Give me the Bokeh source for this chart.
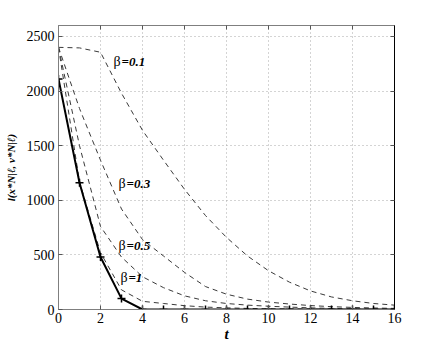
from bokeh.plotting import figure
from bokeh.models import LinearAxis, Range1d, FixedTicker, ColumnDataSource
from bokeh.core.properties import value
from bokeh.embed import file_html
from bokeh.resources import INLINE

t = list(range(17))
solid_vals = [2110, 1160, 480, 100, 0, 0, 0, 0, 0, 0, 0, 0, 0, 0, 0, 0, 0]
beta01 = [2400, 2395, 2355, 1980, 1640, 1367, 1100, 860, 660, 490, 355, 250, 170, 115, 80, 55, 40]
beta03 = [2400, 1840, 1367, 920, 640, 490, 340, 210, 140, 95, 68, 50, 36, 26, 19, 14, 10]
beta05 = [2400, 1500, 760, 480, 300, 200, 125, 80, 55, 40, 30, 22, 15, 10, 7, 5, 4]
beta1 = [2400, 1170, 520, 180, 75, 55, 35, 22, 15, 10, 7, 5, 4, 3, 2, 1, 1]
beta_names = ["=0.1", "=0.3", "=0.5", "=1"]
beta_label_x = [2.62, 2.86, 2.86, 2.95]
beta_label_y = [2266, 1156, 587, 294]
x_ticks = [0, 2, 4, 6, 8, 10, 12, 14, 16]
y_ticks = [0, 500, 1000, 1500, 2000, 2500]
x_title = "t"
y_title = "l(x*N|ℓ, v*N|ℓ)"

SERIF = "Liberation Serif"

p = figure(width=430, height=345, output_backend="svg", toolbar_location=None,
           x_range=Range1d(0, 16), y_range=Range1d(0, 2600),
           min_border_left=58, min_border_right=36, min_border_top=25, min_border_bottom=36)
p.background_fill_color = "white"
p.border_fill_color = "white"
p.outline_line_color = None

for ax in p.xaxis + p.yaxis:
    ax.axis_line_color = "#7f7f7f"
    ax.major_tick_line_color = "#555555"
    ax.major_tick_in = 4
    ax.major_tick_out = 0
    ax.minor_tick_line_color = None
    ax.major_label_text_font = SERIF
    ax.major_label_text_font_size = "14px"
    ax.major_label_text_color = "black"
    ax.axis_label_text_font = SERIF
    ax.axis_label_text_font_style = "bold italic"
    ax.axis_label_text_color = "black"
p.xaxis.ticker = FixedTicker(ticks=x_ticks)
p.yaxis.ticker = FixedTicker(ticks=y_ticks)
p.xaxis.major_label_standoff = 3
p.yaxis.major_label_standoff = 4
p.xaxis.axis_label = x_title
p.xaxis.axis_label_text_font_size = "15px"
p.xaxis.axis_label_standoff = 0
p.yaxis.axis_label = y_title
p.yaxis.axis_label_text_font_size = "11px"
p.yaxis.axis_label_standoff = 7

top = LinearAxis(ticker=FixedTicker(ticks=x_ticks), axis_line_color="#7f7f7f",
                 major_tick_line_color="#555555", major_tick_in=4, major_tick_out=0,
                 minor_tick_line_color=None,
                 major_label_overrides={k: "" for k in x_ticks},
                 major_label_standoff=0)
right = LinearAxis(ticker=FixedTicker(ticks=y_ticks), axis_line_color="black",
                   major_tick_line_color="#555555", major_tick_in=4, major_tick_out=0,
                   minor_tick_line_color=None,
                   major_label_overrides={k: "" for k in y_ticks},
                   major_label_standoff=0)
p.add_layout(top, "above")
p.add_layout(right, "right")

p.xgrid.ticker = FixedTicker(ticks=x_ticks)
p.ygrid.ticker = FixedTicker(ticks=y_ticks)
for g in (p.xgrid[0], p.ygrid[0]):
    g.grid_line_color = "#a8a8a8"
    g.grid_line_dash = "1 3"
    g.grid_line_width = 1

for vals in (beta01, beta03, beta05, beta1):
    p.line(t, vals, line_color="#3a3a3a", line_width=1, line_dash="5 4")

p.line(t, solid_vals, line_color="black", line_width=2)
p.scatter(t, solid_vals, marker="cross", size=8, line_color="black", line_width=1.5)

src = ColumnDataSource(dict(x=beta_label_x, y=beta_label_y, txt=beta_names,
                            b=["β"] * 4))
p.text(x="x", y="y", text="b", source=src, text_font=value(SERIF), text_font_size="14px",
       text_baseline="middle", text_align="left", text_color="black")
p.text(x="x", y="y", text="txt", source=src, text_font=value(SERIF), text_font_size="13px",
       text_font_style="bold italic", text_baseline="middle", text_align="left",
       text_color="black", x_offset=8)

open("out.html", "w").write(file_html(p, INLINE))
